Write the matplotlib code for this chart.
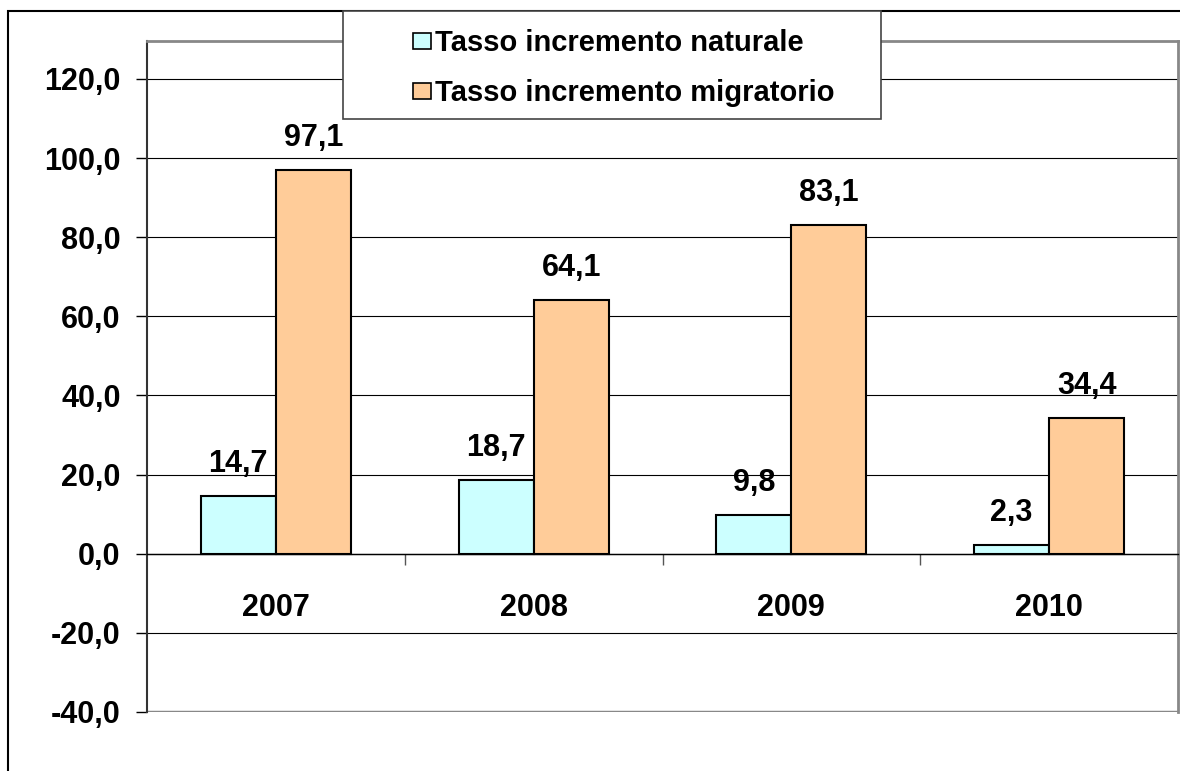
import matplotlib.pyplot as plt
from matplotlib.patches import Rectangle, Patch
import numpy as np

# dati
anni = ['2007', '2008', '2009', '2010']
naturale = [14.7, 18.7, 9.8, 2.3]
migratorio = [97.1, 64.1, 83.1, 34.4]
serie_nomi = ['Tasso incremento naturale', 'Tasso incremento migratorio']
y_ticks = [-40, -20, 0, 20, 40, 60, 80, 100, 120]

plt.rcParams['font.family'] = ['Liberation Sans', 'DejaVu Sans']
plt.rcParams['font.weight'] = 'bold'

W, H = 1180, 771
fig = plt.figure(figsize=(W / 100, H / 100), dpi=100)
ax = fig.add_axes([147 / W, 1 - 712 / H, (1178 - 147) / W, (712 - 41) / H])

col_nat = '#CCFFFF'
col_mig = '#FFCC99'
x = np.arange(len(anni))
bw = 0.291

b1 = ax.bar(x - bw / 2, naturale, bw, color=col_nat, edgecolor='black', linewidth=1.5, zorder=3)
b2 = ax.bar(x + bw / 2, migratorio, bw, color=col_mig, edgecolor='black', linewidth=1.5, zorder=3)

def fmt(v):
    return f"{v:.1f}".replace('.', ',')

ax.bar_label(b1, labels=[fmt(v) for v in naturale], padding=12, fontsize=22, fontweight='bold')
ax.bar_label(b2, labels=[fmt(v) for v in migratorio], padding=12, fontsize=22, fontweight='bold')

ax.set_xlim(-0.5, len(anni) - 0.5)
ax.set_ylim(-40, 129.6)
ax.set_yticks(y_ticks)
ax.set_yticklabels([fmt(v) for v in y_ticks], fontsize=22, fontweight='bold')
ax.tick_params(axis='y', length=8, width=1, direction='out', pad=11)

# asse x sulla linea dello zero
ax.spines['bottom'].set_position(('data', 0))
ax.spines['bottom'].set_color('black')
ax.spines['bottom'].set_linewidth(1)
ax.set_xticks(x)
ax.set_xticklabels(anni, fontsize=22, fontweight='bold')
ax.tick_params(axis='x', which='major', length=0, pad=28)
ax.set_xticks(np.arange(len(anni) - 1) + 0.5, minor=True)
ax.tick_params(axis='x', which='minor', length=8, width=1, direction='out', color='#555555')

ax.grid(axis='y', color='black', linewidth=0.8, zorder=0)
ax.set_axisbelow(True)
ax.spines['left'].set_color('#333333')
ax.spines['left'].set_linewidth(1.5)
for s in ['top', 'right']:
    ax.spines[s].set_color('#888888')
    ax.spines[s].set_linewidth(2)
ax.axhline(ax.get_ylim()[0], color='#888888', linewidth=2.5, zorder=1)

# bordo esterno
fig.patches.append(Rectangle((8 / W, -1), 2, 1 + (1 - 11 / H), transform=fig.transFigure,
                             fill=False, edgecolor='black', linewidth=1.5, zorder=4))

# legenda
fig.patches.append(Rectangle((343 / W, 1 - 119 / H), (881 - 343) / W, 108 / H, transform=fig.transFigure,
                             facecolor='white', edgecolor='#444444', linewidth=1.2, zorder=5))
handles = [Patch(facecolor=col_nat, edgecolor='black', linewidth=1.2),
           Patch(facecolor=col_mig, edgecolor='black', linewidth=1.2)]
leg = fig.legend(handles, serie_nomi, loc='upper left', bbox_to_anchor=(390 / W, 1 - 6 / H),
                 frameon=False, handlelength=0.6, handleheight=0.45,
                 handletextpad=0.15, labelspacing=0.75, borderpad=0.3,
                 prop={'weight': 'bold', 'size': 21})
leg.set_zorder(6)

fig.savefig('out.png', dpi=100)
